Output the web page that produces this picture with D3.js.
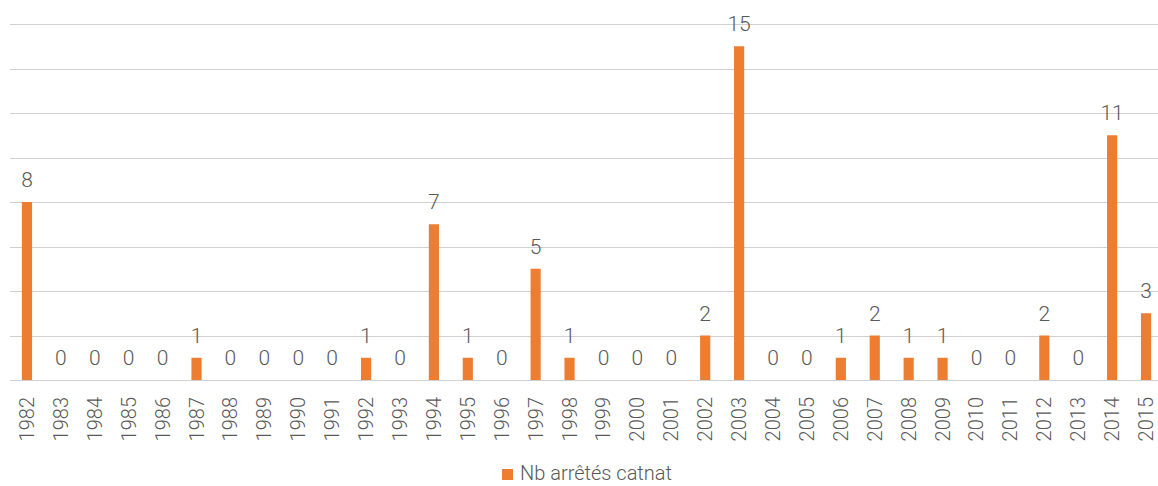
<!DOCTYPE html>
<html>
<head>
<meta charset="utf-8">
<script src="https://cdn.jsdelivr.net/npm/d3@7"></script>
<style>
  body { margin: 0; background: #fff; }
  text { font-family: Roboto, "Open Sans", sans-serif; font-weight: 300; fill: #595959; }
</style>
</head>
<body>
<div id="chart"></div>
<script>
// data
const years = ["1982","1983","1984","1985","1986","1987","1988","1989","1990","1991","1992","1993",
  "1994","1995","1996","1997","1998","1999","2000","2001","2002","2003","2004","2005","2006","2007",
  "2008","2009","2010","2011","2012","2013","2014","2015"];
const counts = [8,0,0,0,0,1,0,0,0,0,1,0,7,1,0,5,1,0,0,0,2,15,0,0,1,2,1,1,0,0,2,0,11,3];
const yTicks = [0,2,4,6,8,10,12,14,16];
const seriesName = "Nb arrêtés catnat";

const totalWidth = 1158, totalHeight = 486;
const margin = { top: 24, left: 10 };
const plotWidth = 1153;
const plotHeight = 356;

const svg = d3.select("#chart").append("svg")
  .attr("width", totalWidth)
  .attr("height", totalHeight);

const g = svg.append("g")
  .attr("transform", "translate(" + margin.left + "," + margin.top + ")");

const x = d3.scaleBand().domain(years).range([0, plotWidth]).paddingInner(0.7).paddingOuter(0.35);
const y = d3.scaleLinear().domain([0, 16]).range([plotHeight, 0]);

// gridlines
g.selectAll("line.grid")
  .data(yTicks)
  .enter().append("line")
  .attr("class", "grid")
  .attr("x1", 0)
  .attr("x2", plotWidth)
  .attr("y1", d => Math.round(y(d)) + 0.5)
  .attr("y2", d => Math.round(y(d)) + 0.5)
  .attr("stroke", "#d0d0d0")
  .attr("stroke-width", 1);

// bars
g.selectAll("rect.bar")
  .data(counts)
  .enter().append("rect")
  .attr("class", "bar")
  .attr("x", (d, i) => x(years[i]))
  .attr("width", x.bandwidth())
  .attr("y", d => y(d))
  .attr("height", d => y(0) - y(d))
  .attr("fill", "#ed7d31");

// value labels
g.selectAll("text.val")
  .data(counts)
  .enter().append("text")
  .attr("class", "val")
  .attr("x", (d, i) => x(years[i]) + x.bandwidth() / 2)
  .attr("y", d => y(d) - 15)
  .attr("text-anchor", "middle")
  .style("font-size", "21px")
  .text(d => d);

// x axis labels
const xAxis = g.append("g")
  .attr("transform", "translate(0," + plotHeight + ")")
  .call(d3.axisBottom(x).tickSize(0).tickPadding(0));
xAxis.select(".domain").remove();
xAxis.selectAll("text")
  .attr("transform", "rotate(-90)")
  .attr("x", -17)
  .attr("y", 0)
  .attr("dy", "0.35em")
  .attr("text-anchor", "end")
  .style("font-size", "20px")
  .style("font-family", "Roboto, sans-serif")
  .style("font-weight", 300)
  .style("fill", "#595959");

// legend
const legend = svg.append("g").attr("transform", "translate(502,469)");
legend.append("rect").attr("width", 11).attr("height", 11).attr("fill", "#ed7d31");
legend.append("text")
  .attr("x", 18)
  .attr("y", 11)
  .style("font-size", "20px")
  .text(seriesName);
</script>
</body>
</html>
